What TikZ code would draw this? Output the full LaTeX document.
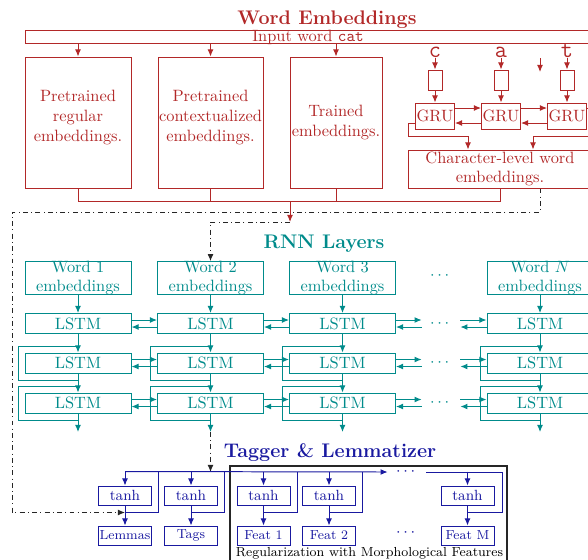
\documentclass[tikz,border=0pt]{standalone}
\usepackage{amsmath,amssymb}
\usepackage{tikz}
\usetikzlibrary{arrows.meta}

\definecolor{embred}{RGB}{178,40,40}
\definecolor{rnnteal}{RGB}{0,139,139}
\definecolor{tagblue}{RGB}{25,25,160}

\begin{document}
\begin{tikzpicture}[x=0.61pt, y=-0.61pt, semithick, >={Latex[length=4.3pt,width=3.6pt]},
        embbox/.style={draw=embred, text=embred, align=center, inner sep=0pt},
        rnnbox/.style={draw=rnnteal, text=rnnteal, align=center, inner sep=0pt, minimum width=64.66pt},
        lstmbox/.style={rnnbox, minimum height=12.2pt},
        tagbox/.style={draw=tagblue, text=tagblue, inner sep=0pt, minimum width=32.33pt, minimum height=11.59pt},
        dashline/.style={black!85, dash dot},
        dotsnode/.style={inner xsep=4.88pt, inner ysep=0pt}]
        \clip (0,0) rectangle (588,559);

        % word embeddings
        \node [style={text=embred, font=\large\bfseries, anchor=base}] (weTitle) at (327,24) {Word Embeddings};
        \node [style={embbox, minimum width=350.75pt, minimum height=7.93pt}] (input) at (312.5,36.5) {};
        \node [style={text=embred, inner sep=0pt, anchor=base}] (inputLbl) at (308,41.5) {Input word \texttt{cat}};

        \node [style={embbox, minimum width=64.66pt, minimum height=79.91pt, text width=64.66pt}] (regEmb) at (78,122.5) {Pretrained\\regular\\embeddings.\\[-4pt]\mbox{}};
        \node [style={embbox, minimum width=64.05pt, minimum height=79.91pt, text width=64.05pt}] (ctxEmb) at (210.5,122.5) {Pretrained\\contextualized\\embeddings.\\[-4pt]\mbox{}};
        \node [style={embbox, minimum width=56.12pt, minimum height=79.91pt, text width=56.12pt}] (trEmb) at (336,122.5) {Trained\\embeddings.};

        \node [style={text=embred, inner sep=0pt, anchor=base, font=\Large\ttfamily}] (chC) at (435,57) {c};
        \node [style={text=embred, inner sep=0pt, anchor=base, font=\Large\ttfamily}] (chA) at (501,57) {a};
        \node [style={text=embred, inner sep=0pt, anchor=base, font=\Large\ttfamily}] (chT) at (567,57) {t};
        \node [style={embbox, minimum width=8.54pt, minimum height=12.2pt}] (embC) at (435,80) {};
        \node [style={embbox, minimum width=8.54pt, minimum height=12.2pt}] (embA) at (501,80) {};
        \node [style={embbox, minimum width=8.54pt, minimum height=12.2pt}] (embT) at (567,80) {};
        \node [style={embbox, minimum width=23.79pt, minimum height=15.86pt}] (gru1) at (435,116) {GRU};
        \node [style={embbox, minimum width=23.79pt, minimum height=15.86pt}] (gru2) at (501,116) {GRU};
        \node [style={embbox, minimum width=23.79pt, minimum height=15.86pt}] (gru3) at (567,116) {GRU};
        \node [style={embbox, minimum width=112.24pt, minimum height=23.18pt}] (charEmb) at (500,169) {Character-level word\\embeddings.};
        \coordinate (gapTop) at (540,58);
        \coordinate (gapBot) at (540,72);
        \coordinate (merge) at (290,201);
        \coordinate (concat) at (290,222);

        \draw[->, embred] (input.south -| regEmb.north) -- (regEmb.north);
        \draw[->, embred] (input.south -| ctxEmb.north) -- (ctxEmb.north);
        \draw[->, embred] (input.south -| trEmb.north) -- (trEmb.north);

        \draw[->, embred] (chC) -- (embC);
        \draw[->, embred] (chA) -- (embA);
        \draw[->, embred] (chT) -- (embT);
        \draw[->, embred] (gapTop) -- (gapBot);
        \draw[->, embred] (embC) -- (gru1);
        \draw[->, embred] (embA) -- (gru2);
        \draw[->, embred] (embT) -- (gru3);

        \draw[->, embred] ([yshift=4.88pt]gru1.east) -- ([yshift=4.88pt]gru2.west);
        \draw[->, embred] ([yshift=4.88pt]gru2.east) -- ([yshift=4.88pt]gru3.west);
        \draw[->, embred] ([yshift=-4.27pt]gru2.west) -- ([yshift=-4.27pt]gru1.east);
        \draw[->, embred] ([yshift=-4.27pt]gru3.west) -- ([yshift=-4.27pt]gru2.east);
        \draw[->, embred] ([yshift=-4.27pt]gru1.west) -- ++(-7,0) -- ++(0,13) -| ([xshift=-19.52pt]charEmb.north);
        \draw[->, embred] ([yshift=4.88pt]gru3.east) -- ++(10,0) -- ++(0,28) -| ([xshift=20.13pt]charEmb.north);

        \draw[embred] (regEmb.south) -- ++(0,13) -| (charEmb.south);
        \draw[embred] (ctxEmb.south) -- ++(0,13);
        \draw[embred] (trEmb.south) -- ++(0,13);
        \draw[->, embred] (merge) -- (concat);

        % rnn layers
        \node [style={text=rnnteal, font=\large\bfseries, anchor=base}] (rnnTitle) at (324,248) {RNN Layers};
        \node [style={rnnbox, minimum height=19.52pt}] (w1) at (78,278) {Word 1\\[-1pt]embeddings};
        \node [style={rnnbox, minimum height=19.52pt}] (w2) at (210.5,278) {Word 2\\[-1pt]embeddings};
        \node [style={rnnbox, minimum height=19.52pt}] (w3) at (342.5,278) {Word 3\\[-1pt]embeddings};
        \node [style={rnnbox, minimum height=19.52pt}] (wN) at (540,278) {Word $N$\\[-1pt]embeddings};
        \node [style={text=rnnteal, dotsnode}] (dotsW) at (441,276) {$\cdots$};

        \node [style=lstmbox] (lstmA1) at (78,323.5) {LSTM};
        \node [style=lstmbox] (lstmA2) at (210.5,323.5) {LSTM};
        \node [style=lstmbox] (lstmA3) at (342.5,323.5) {LSTM};
        \node [style=lstmbox] (lstmAN) at (540,323.5) {LSTM};
        \node [style={text=rnnteal, dotsnode}] (dotsA) at (441,323.5) {$\cdots$};
        \node [style=lstmbox] (lstmB1) at (78,363) {LSTM};
        \node [style=lstmbox] (lstmB2) at (210.5,363) {LSTM};
        \node [style=lstmbox] (lstmB3) at (342.5,363) {LSTM};
        \node [style=lstmbox] (lstmBN) at (540,363) {LSTM};
        \node [style={text=rnnteal, dotsnode}] (dotsB) at (441,363) {$\cdots$};
        \node [style=lstmbox] (lstmC1) at (78,403) {LSTM};
        \node [style=lstmbox] (lstmC2) at (210.5,403) {LSTM};
        \node [style=lstmbox] (lstmC3) at (342.5,403) {LSTM};
        \node [style=lstmbox] (lstmCN) at (540,403) {LSTM};
        \node [style={text=rnnteal, dotsnode}] (dotsC) at (441,403) {$\cdots$};
        \coordinate (out1) at (78,432);
        \coordinate (out2) at (210.5,432);
        \coordinate (out3) at (342.5,432);
        \coordinate (outN) at (540,432);

        \draw[dashline, ->] (concat) -| (w2.north);

        \draw[->, rnnteal] (w1) -- (lstmA1);
        \draw[->, rnnteal] (lstmA1) -- (lstmB1);
        \draw[->, rnnteal] (lstmB1) -- (lstmC1);
        \draw[->, rnnteal] (lstmC1) -- (out1);
        \draw[->, rnnteal] (w2) -- (lstmA2);
        \draw[->, rnnteal] (lstmA2) -- (lstmB2);
        \draw[->, rnnteal] (lstmB2) -- (lstmC2);
        \draw[->, rnnteal] (lstmC2) -- (out2);
        \draw[->, rnnteal] (w3) -- (lstmA3);
        \draw[->, rnnteal] (lstmA3) -- (lstmB3);
        \draw[->, rnnteal] (lstmB3) -- (lstmC3);
        \draw[->, rnnteal] (lstmC3) -- (out3);
        \draw[->, rnnteal] (wN) -- (lstmAN);
        \draw[->, rnnteal] (lstmAN) -- (lstmBN);
        \draw[->, rnnteal] (lstmBN) -- (lstmCN);
        \draw[->, rnnteal] (lstmCN) -- (outN);

        % skip lines round the upper layers
        \draw[rnnteal] ([yshift=3.97pt]lstmB1.north) -| ([xshift=-3.97pt,yshift=-3.97pt]lstmB1.south west) -- ([yshift=-3.97pt]lstmB1.south);
        \draw[rnnteal] ([yshift=3.97pt]lstmB2.north) -| ([xshift=-3.97pt,yshift=-3.97pt]lstmB2.south west) -- ([yshift=-3.97pt]lstmB2.south);
        \draw[rnnteal] ([yshift=3.97pt]lstmB3.north) -| ([xshift=-3.97pt,yshift=-3.97pt]lstmB3.south west) -- ([yshift=-3.97pt]lstmB3.south);
        \draw[rnnteal] ([yshift=3.97pt]lstmBN.north) -| ([xshift=-3.97pt,yshift=-3.97pt]lstmBN.south west) -- ([yshift=-3.97pt]lstmBN.south);
        \draw[rnnteal] ([yshift=3.97pt]lstmC1.north) -| ([xshift=-3.97pt,yshift=-3.97pt]lstmC1.south west) -- ([yshift=-3.97pt]lstmC1.south);
        \draw[rnnteal] ([yshift=3.97pt]lstmC2.north) -| ([xshift=-3.97pt,yshift=-3.97pt]lstmC2.south west) -- ([yshift=-3.97pt]lstmC2.south);
        \draw[rnnteal] ([yshift=3.97pt]lstmC3.north) -| ([xshift=-3.97pt,yshift=-3.97pt]lstmC3.south west) -- ([yshift=-3.97pt]lstmC3.south);
        \draw[rnnteal] ([yshift=3.97pt]lstmCN.north) -| ([xshift=-3.97pt,yshift=-3.97pt]lstmCN.south west) -- ([yshift=-3.97pt]lstmCN.south);

        % both directions
        \draw[->, rnnteal] ([yshift=2.14pt]lstmA1.east) -- ([yshift=2.14pt]lstmA2.west);
        \draw[->, rnnteal] ([yshift=-2.14pt]lstmA2.west) -- ([yshift=-2.14pt]lstmA1.east);
        \draw[->, rnnteal] ([yshift=2.14pt]lstmA2.east) -- ([yshift=2.14pt]lstmA3.west);
        \draw[->, rnnteal] ([yshift=-2.14pt]lstmA3.west) -- ([yshift=-2.14pt]lstmA2.east);
        \draw[->, rnnteal] ([yshift=2.14pt]lstmA3.east) -- ([yshift=2.14pt]dotsA.west);
        \draw[->, rnnteal] ([yshift=-2.14pt]dotsA.west) -- ([yshift=-2.14pt]lstmA3.east);
        \draw[->, rnnteal] ([yshift=2.14pt]dotsA.east) -- ([yshift=2.14pt]lstmAN.west);
        \draw[->, rnnteal] ([yshift=-2.14pt]lstmAN.west) -- ([yshift=-2.14pt]dotsA.east);

        \draw[->, rnnteal] ([yshift=2.14pt]lstmB1.east) -- ([yshift=2.14pt]lstmB2.west);
        \draw[->, rnnteal] ([yshift=-2.14pt]lstmB2.west) -- ([yshift=-2.14pt]lstmB1.east);
        \draw[->, rnnteal] ([yshift=2.14pt]lstmB2.east) -- ([yshift=2.14pt]lstmB3.west);
        \draw[->, rnnteal] ([yshift=-2.14pt]lstmB3.west) -- ([yshift=-2.14pt]lstmB2.east);
        \draw[->, rnnteal] ([yshift=2.14pt]lstmB3.east) -- ([yshift=2.14pt]dotsB.west);
        \draw[->, rnnteal] ([yshift=-2.14pt]dotsB.west) -- ([yshift=-2.14pt]lstmB3.east);
        \draw[->, rnnteal] ([yshift=2.14pt]dotsB.east) -- ([yshift=2.14pt]lstmBN.west);
        \draw[->, rnnteal] ([yshift=-2.14pt]lstmBN.west) -- ([yshift=-2.14pt]dotsB.east);

        \draw[->, rnnteal] ([yshift=2.14pt]lstmC1.east) -- ([yshift=2.14pt]lstmC2.west);
        \draw[->, rnnteal] ([yshift=-2.14pt]lstmC2.west) -- ([yshift=-2.14pt]lstmC1.east);
        \draw[->, rnnteal] ([yshift=2.14pt]lstmC2.east) -- ([yshift=2.14pt]lstmC3.west);
        \draw[->, rnnteal] ([yshift=-2.14pt]lstmC3.west) -- ([yshift=-2.14pt]lstmC2.east);
        \draw[->, rnnteal] ([yshift=2.14pt]lstmC3.east) -- ([yshift=2.14pt]dotsC.west);
        \draw[->, rnnteal] ([yshift=-2.14pt]dotsC.west) -- ([yshift=-2.14pt]lstmC3.east);
        \draw[->, rnnteal] ([yshift=2.14pt]dotsC.east) -- ([yshift=2.14pt]lstmCN.west);
        \draw[->, rnnteal] ([yshift=-2.14pt]lstmCN.west) -- ([yshift=-2.14pt]dotsC.east);

        % tagger and lemmatizer
        \node [style={text=tagblue, font=\large\bfseries, anchor=base}] (tagTitle) at (330,457.5) {Tagger \& Lemmatizer};
        \node [style={draw=black!85, line width=0.7pt, minimum width=168.97pt, minimum height=67.1pt, inner sep=0pt}] (regBox) at (368.5,521) {};
        \node [style={font=\footnotesize, inner sep=0pt, anchor=base}] (regLbl) at (369.5,556) {Regularization with Morphological Features};

        \node [style={tagbox, font=\small}] (tanhL) at (125,495.5) {tanh};
        \node [style={tagbox, font=\small}] (tanhT) at (191,495.5) {tanh};
        \node [style={tagbox, font=\small}] (tanhF1) at (263.5,495.5) {tanh};
        \node [style={tagbox, font=\small}] (tanhF2) at (329,495.5) {tanh};
        \node [style={tagbox, font=\small}] (tanhFM) at (467.5,495.5) {tanh};
        \node [style={tagbox, font=\footnotesize}] (lemmas) at (125,535.5) {Lemmas};
        \node [style={tagbox, font=\footnotesize}] (tags) at (191,535.5) {Tags};
        \node [style={tagbox, font=\footnotesize}] (feat1) at (263.5,535.5) {Feat 1};
        \node [style={tagbox, font=\footnotesize}] (feat2) at (329,535.5) {Feat 2};
        \node [style={tagbox, font=\footnotesize}] (featM) at (467.5,535.5) {Feat M};
        \node [style={text=tagblue, dotsnode}] (dotsF) at (407,472) {\smash{\raisebox{-2pt}{$\cdots$}}};
        \node [style={text=tagblue, dotsnode}] (dotsO) at (407,533) {$\cdots$};
        \coordinate (tagIn) at (210.5,472);
        \coordinate (lemJoin) at ([yshift=-4.27pt]tanhL.south);

        \draw[dashline, ->] (out2) -- (tagIn);
        \draw[dashline, ->] ([xshift=24.4pt]charEmb.south) |- (12,212) |- (lemJoin);

        \draw[->, tagblue] ([yshift=8.54pt]tanhL.north) -- (dotsF.west);
        \draw[tagblue] (dotsF.east) -| ([xshift=4.88pt,yshift=-4.27pt]tanhFM.south east) -- ([yshift=-4.27pt]tanhFM.south);

        \draw[->, tagblue] ([yshift=8.54pt]tanhL.north) -- (tanhL);
        \draw[->, tagblue] ([yshift=8.54pt]tanhT.north) -- (tanhT);
        \draw[->, tagblue] ([yshift=8.54pt]tanhF1.north) -- (tanhF1);
        \draw[->, tagblue] ([yshift=8.54pt]tanhF2.north) -- (tanhF2);
        \draw[->, tagblue] ([yshift=8.54pt]tanhFM.north) -- (tanhFM);
        \draw[->, tagblue] (tanhL) -- (lemmas);
        \draw[->, tagblue] (tanhT) -- (tags);
        \draw[->, tagblue] (tanhF1) -- (feat1);
        \draw[->, tagblue] (tanhF2) -- (feat2);
        \draw[->, tagblue] (tanhFM) -- (featM);

        \draw[tagblue] ([yshift=-4.27pt]tanhL.south) -| ([xshift=3.97pt,yshift=8.54pt]tanhL.north east);
        \draw[tagblue] ([yshift=-4.27pt]tanhT.south) -| ([xshift=3.97pt,yshift=8.54pt]tanhT.north east);
        \draw[tagblue] ([yshift=-4.27pt]tanhF1.south) -| ([xshift=3.97pt,yshift=8.54pt]tanhF1.north east);
        \draw[tagblue] ([yshift=-4.27pt]tanhF2.south) -| ([xshift=3.97pt,yshift=8.54pt]tanhF2.north east);

    \end{tikzpicture}
\end{document}
